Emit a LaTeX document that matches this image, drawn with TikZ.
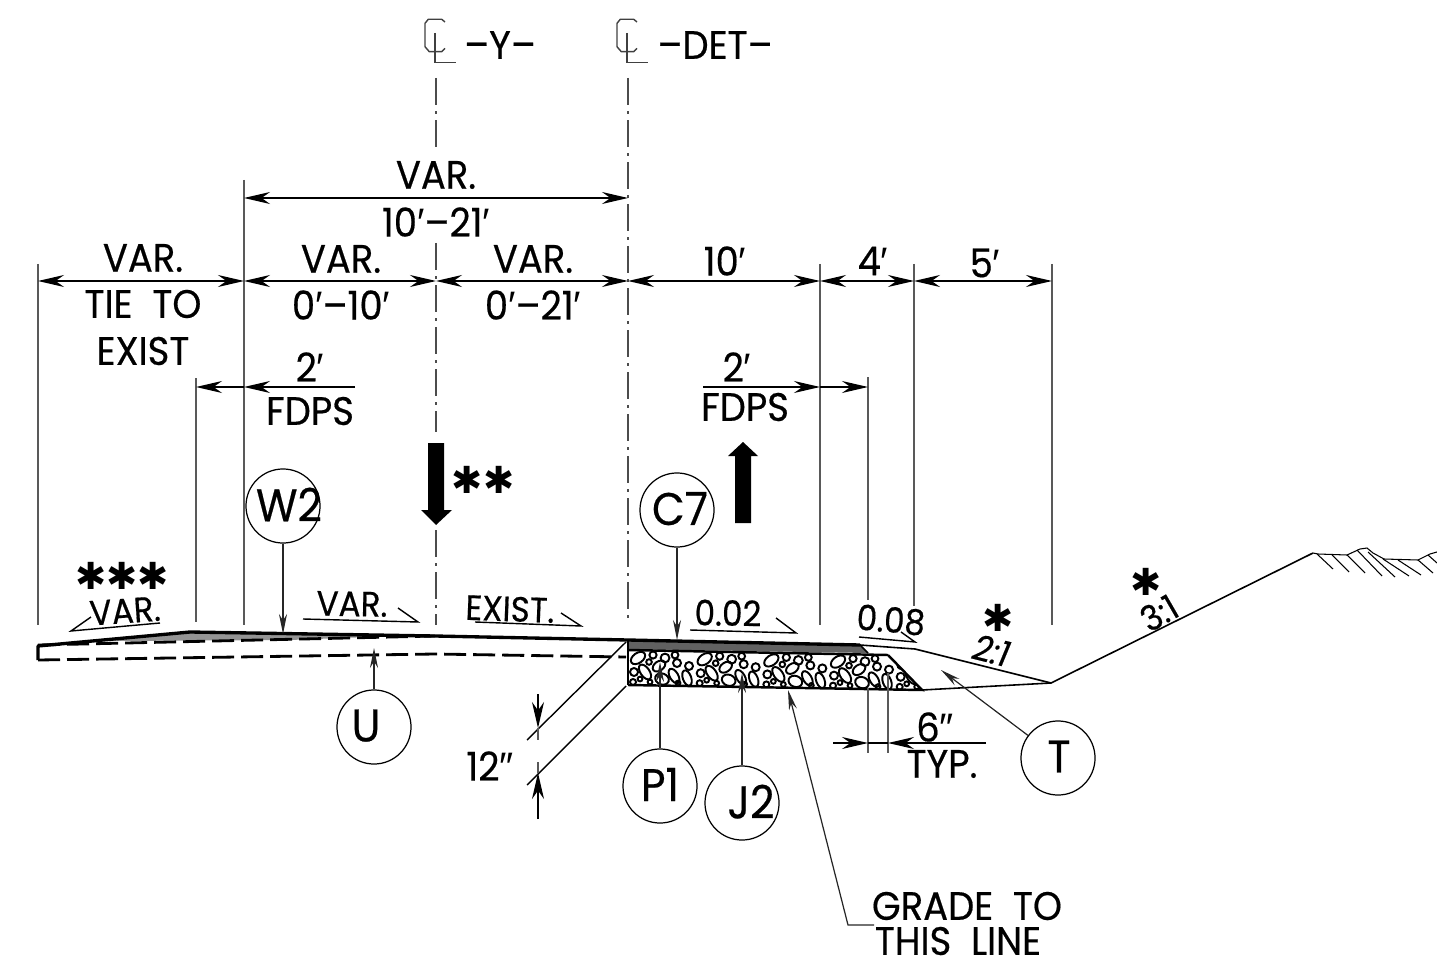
\documentclass[tikz,border=0pt]{standalone}
\usepackage{fontspec}
\setmainfont{Poppins}[FakeStretch=.93,FakeBold=.45]
\newfontfamily\symf{DejaVu Sans}
\newfontfamily\libf{Liberation Sans}
\usetikzlibrary{arrows.meta}
\newcommand{\pr}{{\libf ′}}
\newcommand{\dpr}{{\libf ″}}
\newcommand{\sx}[2]{\makebox[0pt][c]{\hspace*{#1}\raisebox{.03cm}{#2}}}
\tikzset{
 txt/.style={inner sep=0pt,font=\fontsize{11.3}{13}\selectfont},
 small/.style={inner sep=0pt,font=\fontsize{10}{12}\selectfont},
 callout/.style={draw,circle,line width=.35pt,minimum size=.74cm,inner sep=0pt,font=\fontsize{13}{15}\selectfont},
 stars/.style={inner sep=0pt,font=\symf\fontsize{10.6}{13}\selectfont},
 ext/.style={line width=.45pt,draw=black!65},
 dim/.style={line width=.4pt,{Stealth[length=.26cm,width=.12cm]}-{Stealth[length=.26cm,width=.12cm]}},
 dimr/.style={line width=.4pt,-{Stealth[length=.26cm,width=.12cm]}},
 lead/.style={line width=.35pt,draw=black!85,-{Stealth[length=.2cm,width=.08cm]}},
 cl/.style={line width=.45pt,draw=black!70,dash pattern=on .27cm off .06cm on .03cm off .06cm},
 road/.style={line width=.95pt,line join=round},
 thin1/.style={line width=.4pt},
 slope/.style={line width=.45pt},
 dashline/.style={line width=.8pt,dash pattern=on .22cm off .07cm},
}
\begin{document}
\begin{tikzpicture}[x=0.01cm,y=-0.01cm]
\useasboundingbox (0,0) rectangle (1437,964);
% coordinates
\foreach \n/\x in {a/38,b/244,c/436,d/628,e/820,f/914,g/1052}{\coordinate (\n) at (\x,281);}
\coordinate (topL) at (244,198); \coordinate (topR) at (628,198);
\coordinate (l1) at (196,387); \coordinate (l2) at (244,387); \coordinate (l3) at (355,387);
\coordinate (r1) at (703,387); \coordinate (r2) at (820,387); \coordinate (r3) at (868,387);
% extension lines
\draw[ext] (38,264)--(38,625);
\draw[ext] (244,180)--(244,625);
\draw[ext] (196,378)--(196,622);
\draw[ext] (820,264)--(820,625);
\draw[ext] (914,264)--(914,606);
\draw[ext] (1052,264)--(1052,625);
\draw[ext] (868,377)--(868,600);
% centre lines
\draw[cl] (436,78)--(436,150);
\draw[cl] (436,243)--(436,432);
\draw[cl] (436,530)--(436,625);
\draw[cl] (628,78)--(628,622);
% CL symbols
\foreach \dx/\nm in {0/p,192/q}{
 \draw[line width=.4pt,draw=black!75,xshift=\dx*0.01cm] (445,22)--(441.7,19.3)--(428.3,19.3)--(425,23.3)--(425,46.7)--(429.3,51.7)--(441.7,51.7)--(445,48.3);
 \draw[line width=.4pt,draw=black!75,xshift=\dx*0.01cm] (435,33)--(435,62.3)--(456,62.3);
}
\node[txt] (ty) at (500,45) {–Y–};
\node[txt] (tdet) at (715,45) {–DET–};
% dimensions
\draw[dim] (a)--(b);
\draw[dim] (b)--(c);
\draw[dim] (c)--(d);
\draw[dim] (d)--(e);
\draw[dim] (e)--(f);
\draw[dim] (f)--(g);
\draw[dim] (topL)--(topR);
\draw[dimr] (l3)--(l2);
\draw[dimr] (l2)--(l1);
\draw[dimr] (r1)--(r2);
\draw[dimr] (r2)--(r3);
% dimension texts
\node[txt] (t1) at (143,258) {VAR.};
\node[txt] (t2) at (143,304) {TIE\hspace{.25em} TO};
\node[txt] (t3) at (143,351) {EXIST};
\node[txt] (t4) at (341,259) {VAR.};
\node[txt] (t5) at (341,305) {0\pr–10\pr};
\node[txt] (t6) at (533,259) {VAR.};
\node[txt] (t7) at (533,305) {0\pr–21\pr};
\node[txt] (t8) at (436,175) {VAR.};
\node[txt] (t9) at (436,222) {10\pr–21\pr};
\node[txt] (t10) at (725,261) {10\pr};
\node[txt] (t11) at (873,261) {4\pr};
\node[txt] (t12) at (985,263) {5\pr};
\node[txt] (t13) at (310,367) {2\pr};
\node[txt] (t14) at (310,411) {FDPS};
\node[txt] (t15) at (737,367) {2\pr};
\node[txt] (t16) at (745,407) {FDPS};
\node[txt] (t17) at (490,766) {12\dpr};
\node[txt] (t18) at (935,727) {6\dpr};
\node[txt] (t19) at (942,764) {TYP.};
\node[txt] (t20) at (967,906) {GRADE\hspace{.25em} TO};
\node[txt] (t21) at (958,941) {THIS\hspace{.25em} LINE};
% big arrows
\fill (428,443)--(444,443)--(444,510)--(452,510)--(436,525)--(421,510)--(428,510)--cycle;
\fill (735,523)--(751,523)--(751,456)--(758,456)--(743,442)--(728,456)--(735,456)--cycle;
\node[stars] (s2) at (483,480) {✱✱};
\node[stars] (s3) at (122,576) {✱✱✱};
\node[stars] (s1) at (998,618) {✱};
\node[stars] (s4) at (1146,582) {✱};
% gray wedge
\fill[black!42] (110,641)--(190,632)--(290,633)--(395,636)--(290,640)--cycle;
% gravel
\begin{scope}
\clip (628,650)--(888,655)--(922,690)--(628,685)--cycle;
\foreach \i in {0,...,4}{
 \begin{scope}[shift={(\i*66.67,\i*1.2)},line width=.55pt]
 \draw (638,658) circle [x radius=8,y radius=5,rotate=35];
 \draw (653,655) circle [radius=3.6];
 \draw (649,662) circle [radius=2.8];
 \draw (665,658) circle [radius=4.4];
 \draw (675,655) circle [radius=3.4];
 \draw (677,663) circle [radius=4];
 \draw (689,666) circle [radius=4];
 \draw (634,672) circle [radius=4];
 \draw (645,672) circle [x radius=8.5,y radius=4.5,rotate=-55];
 \draw (659,666) circle [x radius=7,y radius=4.6,rotate=35];
 \draw (662,679) circle [x radius=7,y radius=5.5,rotate=-20];
 \draw (674,676) circle [x radius=8,y radius=4.2,rotate=-60];
 \draw (687,678) circle [x radius=8,y radius=4.2,rotate=-70];
 \draw (640,679) circle [radius=2.4];
 \draw (633,682) circle [radius=3];
 \draw (650,682) circle [radius=2.4];
 \draw (678,683) circle [radius=2.4];
 \end{scope}
}
\end{scope}
% pavement
\fill[black!62] (628,641)--(860,646)--(868,653)--(628,649)--cycle;
\draw[line width=.7pt] (628,640)--(628,685);
\draw[line width=.7pt] (628,650)--(888,655);
\draw[line width=.7pt] (888,655)--(922,690)--(628,685);
% road surface
\draw[road] (38,660)--(38,646)--(190,632)--(435,636)--(628,640)--(860,645);
\draw[slope] (860,645)--(915,649)--(1051,683)--(1313,553);
\draw[slope] (860,645)--(868,653);
\draw[slope] (922,690)--(1051,683);
% existing ground
\draw[line width=.3pt] (1313,553)--(1318,554)--(1347,555)--(1360,549)--(1367,548)--(1373,553)--(1384,559)--(1418,560)--(1430,554)--(1437,552);
\draw[line width=.3pt] (1317,554)--(1333,569) (1332,555)--(1349,572) (1347,555)--(1365,573) (1357,550)--(1382,576) (1368,552)--(1395,577) (1383,559)--(1409,576) (1398,560)--(1421,575) (1418,560)--(1433,573) (1428,555)--(1437,563);
% dashed
\draw[dashline] (38,645)--(435,636);
\draw[dashline] (38,660)--(435,654)--(626,657);
% slope labels with wedges
\draw[thin1] (91,617)--(71,631)--(160,623);
\node[small,rotate=4] (v1) at (125,611) {VAR.};
\draw[thin1] (303,619)--(418,622)--(398,608);
\node[small,rotate=-1] (v2) at (352,604) {VAR.};
\draw[thin1] (475,622)--(581,626)--(561,613);
\node[small,rotate=-2] (v3) at (510,609) {EXIST.};
\draw[thin1] (690,630)--(796,633)--(776,618);
\node[small,rotate=-1] (v4) at (728,613) {0.02};
\draw[thin1] (859,637)--(915,642)--(901,632);
\node[small,rotate=-5] (v5) at (891,620) {0.08};
\node[small,rotate=-14] (v6) at (990,650) {\addfontfeature{FakeSlant=.15}2:1};
\node[small,rotate=30] (v7) at (1159,613) {3:1};
% 12 inch
\draw[thin1] (626,642)--(527,740);
\draw[thin1] (626,686)--(527,785);
\coordinate (d1) at (538,694); \coordinate (d2) at (538,728); \coordinate (d3) at (538,819); \coordinate (d4) at (538,773);
\draw[dimr] (d1)--(d2);
\draw[dimr] (d3)--(d4);
\draw[ext] (d2)--(538,740);
\draw[ext] (d4)--(538,762);
% 6 inch
\draw[ext] (868,688)--(868,753);
\draw[ext] (888,673)--(888,753);
\coordinate (e1) at (833,743); \coordinate (e2) at (868,743); \coordinate (e3) at (986,743); \coordinate (e4) at (888,743);
\draw[dimr] (e1)--(e2);
\draw[dimr] (e3)--(e4);
\draw[thin1] (e2)--(e4);
% callouts
\node[callout] (W2) at (283,506) {\sx{.12cm}{W2}};
\node[callout] (C7) at (677,510) {\sx{.06cm}{C7}};
\node[callout] (U) at (374,727) {\sx{-.16cm}{U}};
\node[callout] (P1) at (660,786) {\sx{0cm}{P1}};
\node[callout] (J2) at (742,803) {\sx{.18cm}{J2}};
\node[callout] (T) at (1058,758) {\sx{.02cm}{T}};
\coordinate (W2t) at (283,634); \coordinate (C7t) at (677,640); \coordinate (Ut) at (374,648);
\coordinate (P1t) at (660,662); \coordinate (J2t) at (742,673); \coordinate (Tt) at (941,670);
\draw[lead] (W2.south)--(W2t);
\draw[lead] (C7.south)--(C7t);
\draw[lead] (U.north)--(Ut);
\draw[lead] (P1.north)--(P1t);
\draw[lead] (J2.north)--(J2t);
\draw[lead] (T)--(Tt);
\coordinate (g1) at (872,925); \coordinate (g2) at (848,925); \coordinate (g3) at (788,690);
\draw[lead] (t21.west |- g1)--(g2)--(g3);
\end{tikzpicture}
\end{document}
